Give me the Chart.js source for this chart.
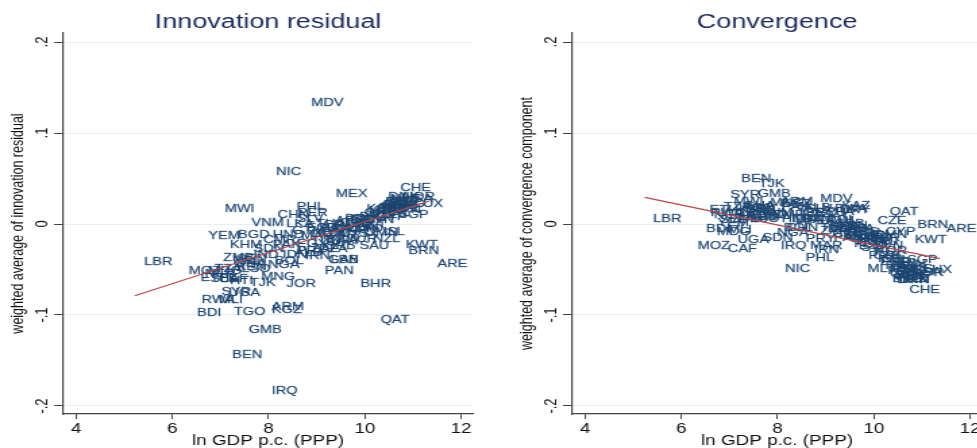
<!DOCTYPE html>
<html>
<head>
<meta charset="utf-8">
<script src="https://cdn.jsdelivr.net/npm/chart.js@4.4.1/dist/chart.umd.min.js"></script>
<style>
  html, body { margin: 0; padding: 0; background: #fff; overflow: hidden; }
  #wrap { position: relative; width: 977px; height: 448px; overflow: hidden; }
  /* the source graph is stretched horizontally, so draw narrow and scale in x */
  canvas { position: absolute; top: 0; transform: scaleX(1.35); transform-origin: 0 0; }
  #innov { left: 0; }
  #conv { left: 509px; }
</style>
</head>
<body>
<div id="wrap">
  <canvas id="innov" width="363" height="456"></canvas>
  <canvas id="conv" width="363" height="456"></canvas>
</div>
<script>
// Country codes and values (ln GDP p.c., innovation residual, convergence component)
const countries = [
  'LBR','MDV','NIC','MEX','CHE','MWI','PHL','CHN','VNM','LKA',
  'YEM','BGD','KHM','ARE','BRN','KWT','BHR','JOR','TJK','PAN',
  'GAB','SAU','NZL','ISL','QAT','GMB','BEN','IRQ','BDI','TGO',
  'ARM','KGZ','RWA','MLI','SYR','UGA','MOZ','NER','TZA','CAF',
  'HTI','ZMB','NPL','LSO','MNG','CMR','PAK','BOL','ALB','MAR',
  'PER','COL','ZAF','TUR','IRN','USA','JPN','DEU','MLT','CYP',
  'EGY','IDN','IND','GHA','SEN','KEN','ETH','MDG','SLE','NGA',
  'SDN','HND','GTM','SLV','PRY','ECU','DOM','THA','TUN','DZA',
  'BRA','CRI','URY','ARG','CHL','MYS','KAZ','BWA','POL','HUN',
  'LVA','LTU','EST','HRV','SVK','CZE','PRT','GRC','SVN','KOR',
  'ISR','ESP','ITA','FRA','GBR','FIN','BEL','CAN','SWE','AUS',
  'AUT','DNK','NLD','IRL','HKG','SGP','NOR','LUX','OMN','TTO','LBN','SRB'
];
const gdp = [
  5.21, 8.68, 7.95, 9.19, 10.53, 6.88, 8.38, 7.98, 7.44, 8.16,
  6.54, 7.16, 6.99, 11.30, 10.70, 10.64, 9.70, 8.17, 7.40, 8.96,
  9.03, 9.68, 9.96, 10.17, 10.12, 7.38, 7.04, 7.86, 6.31, 7.07,
  7.86, 7.86, 6.40, 6.76, 6.81, 6.96, 6.13, 6.47, 6.67, 6.76,
  6.99, 6.85, 7.05, 7.23, 7.64, 7.68, 7.88, 7.92, 8.33, 8.47,
  8.40, 8.81, 8.68, 9.43, 8.55, 10.58, 10.39, 10.22, 9.66, 10.04,
  8.38, 8.08, 7.48, 7.08, 7.13, 7.13, 6.38, 6.53, 6.58, 7.78,
  7.48, 7.88, 8.28, 8.38, 8.38, 8.58, 8.68, 8.78, 8.68, 8.83,
  8.88, 8.93, 9.08, 9.18, 9.28, 9.23, 9.13, 8.98, 9.38, 9.43,
  9.28, 9.38, 9.48, 9.43, 9.53, 9.87, 9.68, 9.78, 9.78, 9.83,
  9.88, 9.93, 10.03, 10.08, 10.13, 10.13, 10.18, 10.23, 10.23, 10.28,
  10.28, 10.28, 10.33, 10.28, 10.38, 10.48, 10.58, 10.83, 9.78, 9.58, 9.08, 8.98
];
const innovation = [
  -0.042, 0.133, 0.057, 0.033, 0.039, 0.017, 0.019, 0.010, 0.001, 0.000,
  -0.013, -0.012, -0.023, -0.044, -0.030, -0.023, -0.066, -0.066, -0.065, -0.052,
  -0.040, -0.024, -0.017, -0.009, -0.106, -0.116, -0.144, -0.184, -0.098, -0.097,
  -0.091, -0.0945, -0.083, -0.0835, -0.075, -0.076, -0.052, -0.055, -0.049, -0.060,
  -0.063, -0.037, -0.041, -0.050, -0.058, -0.018, -0.023, -0.041, -0.032, -0.013,
  0.012, -0.010, -0.027, -0.017, -0.035, 0.027, 0.015, 0.024, -0.001, 0.008,
  -0.022, -0.034, -0.034, -0.044, -0.038, -0.047, -0.059, -0.052, -0.060, -0.045,
  -0.028, -0.012, -0.008, 0.006, -0.030, -0.004, -0.011, 0.000, -0.019, -0.027,
  -0.006, -0.001, -0.019, 0.003, 0.001, -0.011, -0.005, -0.018, 0.005, -0.003,
  -0.002, 0.000, 0.004, -0.008, 0.006, 0.010, 0.008, 0.012, 0.004, 0.016,
  0.014, 0.010, 0.015, 0.018, 0.020, 0.016, 0.021, 0.017, 0.024, 0.020,
  0.025, 0.030, 0.027, 0.012, 0.022, 0.010, 0.030, 0.022, -0.010, -0.005, -0.040, -0.024
];
const convergence = [
  0.005, 0.027, -0.049, -0.012, -0.073, 0.024, -0.037, -0.004, 0.012, 0.004,
  0.001, 0.008, 0.015, -0.006, -0.001, -0.018, -0.015, 0.012, 0.044, -0.015,
  -0.005, -0.020, -0.040, -0.050, 0.0135, 0.033, 0.0495, -0.024, -0.005, 0.018,
  0.0245, 0.022, 0.012, -0.007, 0.032, -0.018, -0.024, 0.010, 0.019, -0.027,
  0.009, 0.005, 0.014, 0.006, 0.023, 0.010, 0.019, -0.004, 0.018, -0.024,
  0.003, 0.004, -0.008, -0.013, -0.029, -0.053, -0.0615, -0.057, -0.049, -0.009,
  0.012, 0.006, 0.010, 0.020, 0.017, 0.008, 0.015, -0.009, 0.004, -0.010,
  -0.015, 0.005, 0.006, 0.017, -0.016, 0.012, 0.003, 0.013, -0.004, -0.006,
  -0.003, -0.011, 0.015, -0.014, -0.016, -0.009, 0.020, 0.016, -0.022, -0.020,
  -0.006, -0.010, -0.024, -0.018, -0.026, 0.003, -0.035, -0.035, -0.024, -0.030,
  -0.038, -0.042, -0.046, -0.052, -0.055, -0.050, -0.060, -0.045, -0.056, -0.048,
  -0.058, -0.062, -0.060, -0.043, -0.049, -0.040, -0.054, -0.051, -0.012, -0.015, -0.002, 0.000
];

// fitted lines (end points)
const fitInnovX = [5.22, 11.34];
const fitInnovY = [-0.0788, 0.0253];
const fitConvX = [5.24, 11.37];
const fitConvY = [0.0293, -0.0381];

const xTicks = [4, 6, 8, 10, 12];
const yTicks = [-0.2, -0.1, 0, 0.1, 0.2];
const yTickLabels = ['-.2', '-.1', '0', '.1', '.2'];

const FONT = '"Liberation Sans", Arial, Helvetica, sans-serif';

// writes the country code to the right of each (invisible) marker
const codeLabels = {
  id: 'codeLabels',
  afterDatasetDraw(chart, args) {
    if (args.index !== 1) return;
    const ctx = chart.ctx;
    ctx.save();
    ctx.font = '10.8px ' + FONT;
    ctx.fillStyle = '#1d4672';
    ctx.strokeStyle = 'rgba(29,70,114,0.6)';
    ctx.lineWidth = 0.35;
    ctx.textAlign = 'left';
    ctx.textBaseline = 'middle';
    args.meta.data.forEach((p, i) => {
      ctx.fillText(countries[i], p.x + 7.4, p.y);
      ctx.strokeText(countries[i], p.x + 7.4, p.y);
    });
    ctx.restore();
  }
};

function makePanel(id, title, yTitle, yValues, fitX, fitY) {
  new Chart(document.getElementById(id), {
    type: 'scatter',
    data: {
      datasets: [
        {
          type: 'line',
          data: fitX.map((x, i) => ({ x: x, y: fitY[i] })),
          borderColor: '#b8494b',
          borderWidth: 1.2,
          pointRadius: 0,
          fill: false
        },
        {
          data: gdp.map((x, i) => ({ x: x, y: yValues[i] })),
          pointRadius: 0,
          pointHoverRadius: 0
        }
      ]
    },
    options: {
      responsive: false,
      animation: false,
      devicePixelRatio: 1,
      events: [],
      layout: { padding: { left: 0, right: 12.6, top: 0, bottom: 0 } },
      plugins: {
        legend: { display: false },
        tooltip: { enabled: false },
        title: {
          display: true,
          text: title,
          fullSize: false,
          color: '#1c2a59',
          font: { family: FONT, size: 20, weight: 'normal', lineHeight: 1 },
          padding: { top: 12.4, bottom: 0.6 }
        }
      },
      scales: {
        x: {
          type: 'linear',
          min: 3.73,
          max: 12.25,
          bounds: 'data',
          afterBuildTicks: s => { s.ticks = xTicks.map(v => ({ value: v })); },
          afterFit: s => { s.height = 42; },
          grid: { drawOnChartArea: false, tickLength: 5, tickColor: '#444', lineWidth: 1 },
          border: { display: true, color: '#444', width: 1.2 },
          ticks: { autoSkip: false, maxRotation: 0, padding: 2, color: '#111',
                   font: { family: FONT, size: 14 } },
          title: { display: true, text: 'ln GDP p.c. (PPP)', color: '#111',
                   font: { family: FONT, size: 14 }, padding: { top: 0, bottom: 6.6 } }
        },
        y: {
          type: 'linear',
          min: -0.2088,
          max: 0.2099,
          bounds: 'data',
          afterBuildTicks: s => { s.ticks = yTicks.map(v => ({ value: v })); },
          afterFit: s => { s.width = 46.7; },
          grid: { color: '#e6eff1', lineWidth: 1, tickLength: 6.7, tickColor: '#444' },
          border: { display: true, color: '#444', width: 1.2 },
          ticks: {
            autoSkip: false, minRotation: 90, maxRotation: 90, crossAlign: 'center',
            padding: 1.3, color: '#111', font: { family: FONT, size: 13 },
            callback: (v, i) => yTickLabels[i]
          },
          title: { display: true, text: yTitle, color: '#111',
                   font: { family: FONT, size: 12.5 }, padding: { top: 5.8, bottom: 0 } }
        }
      }
    },
    plugins: [codeLabels]
  });
}

makePanel('innov', 'Innovation residual', 'weighted average of innovation residual',
  innovation, fitInnovX, fitInnovY);
makePanel('conv', 'Convergence', 'weighted average of convergence component',
  convergence, fitConvX, fitConvY);
</script>
</body>
</html>
